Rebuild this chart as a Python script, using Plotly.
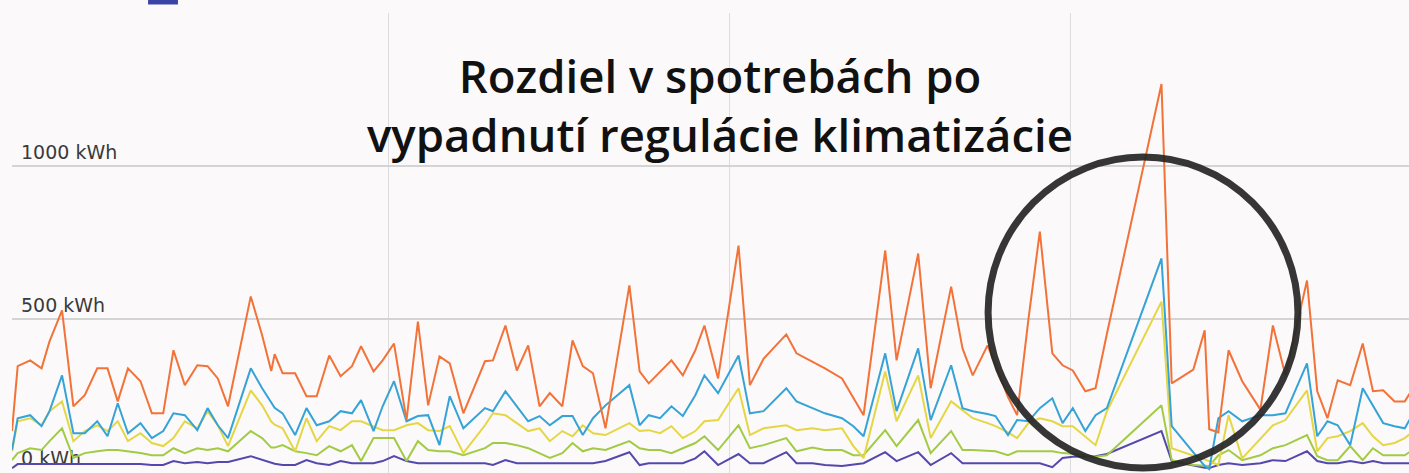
import plotly.graph_objects as go

# day positions of the samples
days = [0.0, 0.5, 1.6, 2.6, 3.3, 4.4, 5.4, 6.4, 7.5, 8.4, 9.3, 10.2, 11.3, 12.3, 13.3,
        14.2, 15.2, 16.3, 17.2, 18.1, 19.0, 21.0, 22.0, 22.8, 23.1, 23.8, 24.9, 25.9,
        26.8, 27.9, 28.9, 29.9, 30.7, 31.8, 32.6, 33.6, 34.7, 35.7, 36.6, 37.6, 38.5,
        39.7, 41.6, 42.3, 43.4, 44.4, 45.4, 46.4, 47.3, 48.4, 49.3, 50.2, 51.1, 52.2,
        54.3, 55.2, 56.0, 57.0, 58.0, 59.0, 60.1, 60.9, 62.1, 63.9, 64.9, 66.1, 68.1,
        69.0, 70.4, 71.5, 73.0, 74.0, 74.9, 76.8, 77.8, 79.7, 80.8, 82.6, 83.6, 84.5,
        85.8, 86.5, 87.6, 88.4, 89.4, 90.4, 91.5, 92.4, 93.3, 94.4, 95.3, 96.3, 101.1,
        102.0, 103.9, 104.9, 105.3, 106.1, 107.0, 108.2, 109.8, 110.9, 112.0, 113.9,
        114.8, 115.7, 116.6, 117.7, 118.8, 119.7, 120.6, 121.6, 122.5, 123.5]

orange = [134, 346, 365, 339, 427, 528, 215, 251, 339, 339, 231, 339, 297, 192, 192,
          398, 284, 349, 346, 306, 215, 574, 447, 330, 385, 323, 323, 248,
          248, 381, 313, 346, 411, 329, 365, 420, 170, 492, 218, 378, 355,
          192, 362, 365, 479, 332, 414, 215, 258, 215, 430, 346, 323, 143,
          610, 329, 290, 329, 365, 316, 398, 479, 306, 740, 284, 370, 450,
          388, 362, 339, 306, 241, 186, 724, 365, 714, 274, 606, 404, 316,
          414, 350, 245, 186, 500, 786, 388, 349, 332, 264, 274, 452, 1268,
          290, 335, 463, 140, 130, 398, 297, 204, 479, 316, 626,
          264, 176, 300, 284, 420, 264, 267, 231, 231, 290]

blue = [72, 176, 186, 150, 199, 316, 127, 127, 166, 117, 225, 127, 160, 111, 134,
        192, 186, 137, 209, 153, 111, 339, 274, 225, 210, 192, 121, 209,
        153, 166, 199, 192, 235, 134, 215, 297, 166, 183, 186, 88, 248,
        143, 209, 199, 264, 215, 166, 183, 153, 183, 183, 121, 176, 218,
        284, 153, 186, 176, 215, 183, 251, 316, 258, 381, 192, 199, 274,
        231, 209, 192, 176, 150, 117, 388, 199, 404, 170, 349, 209, 199,
        190, 183, 121, 170, 166, 209, 241, 160, 209, 134, 186, 209, 698,
        150, 64, 20, 10, 176, 199, 166, 186, 186, 192, 355,
        117, 166, 153, 88, 274, 218, 160, 150, 143, 210]

yellow = [68, 166, 176, 153, 199, 231, 101, 134, 153, 134, 166, 101, 127, 95, 85,
          111, 166, 143, 199, 153, 85, 267, 218, 165, 155, 143, 68, 176,
          101, 150, 137, 166, 166, 150, 137, 137, 153, 160, 137, 134, 150,
          62, 153, 192, 186, 160, 134, 143, 101, 134, 117, 153, 127, 121,
          160, 134, 137, 127, 150, 111, 134, 166, 170, 274, 121, 143, 153,
          137, 143, 137, 143, 85, 46, 329, 166, 316, 111, 231, 202, 176,
          160, 150, 130, 111, 160, 176, 166, 150, 150, 117, 88, 199, 557,
          78, 55, 42, 36, 23, 186, 45, 111, 153, 170, 267,
          68, 111, 117, 134, 160, 117, 88, 95, 111, 140]

green = [39, 62, 78, 72, 101, 143, 46, 62, 68, 72, 72, 68, 62, 55, 55,
         78, 62, 78, 72, 78, 68, 134, 111, 80, 80, 88, 68, 62,
         55, 85, 68, 88, 36, 111, 111, 111, 36, 101, 72, 68, 68,
         55, 78, 95, 95, 88, 78, 62, 46, 62, 95, 68, 78, 72,
         101, 78, 72, 72, 62, 78, 95, 117, 72, 153, 78, 88, 111,
         68, 80, 72, 72, 55, 55, 137, 85, 170, 62, 134, 72, 72,
         70, 68, 55, 68, 68, 68, 68, 62, 60, 55, 50, 55, 218,
         39, 23, 21, 20, 55, 72, 39, 55, 78, 88, 121,
         52, 39, 39, 85, 39, 78, 55, 55, 55, 80]

purple = [13, 26, 26, 26, 26, 26, 26, 26, 26, 26, 26, 26, 26, 23, 23,
          36, 29, 33, 29, 33, 33, 52, 39, 30, 27, 23, 23, 39,
          29, 23, 36, 29, 29, 29, 36, 52, 36, 29, 29, 29, 29,
          29, 29, 23, 39, 29, 29, 29, 29, 29, 29, 29, 29, 36,
          65, 23, 29, 29, 29, 29, 45, 68, 23, 59, 29, 29, 65,
          29, 29, 23, 20, 25, 29, 65, 36, 65, 23, 62, 29, 29,
          29, 29, 29, 29, 29, 29, 16, 46, 50, 52, 52, 59, 134,
          36, 20, 14, 13, 23, 29, 23, 29, 39, 36, 68,
          36, 29, 29, 36, 29, 36, 29, 29, 29, 29]

y_ticks = [0, 500, 1000, 1500]
y_tick_labels = ["0 kWh", "500 kWh", "1000 kWh", ""]
x_grid = [3.1, 33.1, 63.1, 93.1]

title_lines = ["Rozdiel v spotrebách po", "vypadnutí regulácie klimatizácie"]

series = [
    ("purple", purple, "#5448ad"),
    ("green", green, "#a2cb45"),
    ("yellow", yellow, "#e5d644"),
    ("blue", blue, "#35a3d6"),
    ("orange", orange, "#f27238"),
]

fig = go.Figure()
for name, vals, col in series:
    fig.add_trace(go.Scatter(x=days, y=vals, mode="lines", name=name,
                             line=dict(color=col, width=2), showlegend=False))

bg = "#fbf9fa"
fig.update_layout(
    width=1409, height=473,
    margin=dict(l=12, r=0, t=13, b=0),
    paper_bgcolor=bg, plot_bgcolor=bg,
    xaxis=dict(range=[0, 122.87], tickvals=x_grid, showticklabels=False,
               showgrid=True, gridcolor="#dcdcdc", gridwidth=1, zeroline=False,
               showline=False, ticks=""),
    yaxis=dict(range=[-3, 1500], tickvals=y_ticks, ticktext=y_tick_labels,
               ticklabelposition="inside top", ticklabelstandoff=6,
               showgrid=True, gridcolor="#d4d4d4",
               gridwidth=1.5, zeroline=False, showline=False, ticks="",
               layer="below traces",
               tickfont=dict(family="DejaVu Sans", size=19, color="#3a3a3a")),
    font=dict(family="DejaVu Sans"),
)

fig.add_annotation(text="<br>".join(title_lines), xref="paper", yref="paper",
                   x=0.5065, y=0.80, xanchor="center", yanchor="middle",
                   showarrow=False, align="center",
                   font=dict(family="Open Sans", size=45.5, color="#111111", weight=600))

# highlight circle
fig.add_shape(type="circle", xref="paper", yref="paper",
              x0=0.6987, x1=0.9205, y0=0.0109, y1=0.687,
              line=dict(color="#262626", width=7), opacity=0.92)

# cropped legend swatch at the top
fig.add_shape(type="rect", xref="paper", yref="paper",
              x0=0.0974, x1=0.1188, y0=1.0185, y1=1.035,
              line=dict(width=0), fillcolor="#3a44a6")

fig.write_html(
    "out.html",
    config={"displayModeBar": False},
    post_script="document.body.style.margin='0';document.body.style.overflow='hidden';",
)
